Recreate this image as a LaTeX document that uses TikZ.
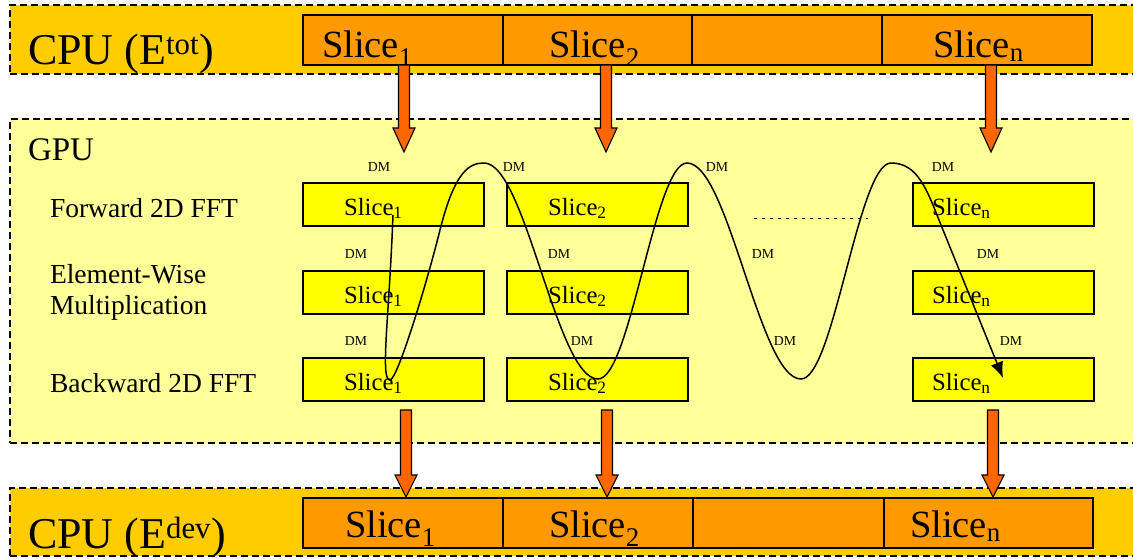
\documentclass[tikz,border=0pt]{standalone}
\usepackage{fontspec}
\setmainfont{Liberation Serif}
\usetikzlibrary{arrows.meta}
\definecolor{cpuband}{HTML}{FFCC00}
\definecolor{gpuband}{HTML}{FFFF99}
\definecolor{barfill}{HTML}{FF9900}
\definecolor{arrowfill}{HTML}{FF6600}
\definecolor{boxfill}{HTML}{FFFF00}
\newcommand{\fsz}[1]{\fontsize{#1}{#1}\selectfont}
\newcommand{\blockarrow}[4]{%
  \draw[orarrow] (#1-5.5,#2) -- (#1+5.5,#2) -- (#1+5.5,#3) -- (#1+11,#3) -- (#1,#4)
    -- (#1-11,#3) -- (#1-5.5,#3) -- cycle;}
\begin{document}
\begin{tikzpicture}[x=1pt,y=-1pt,
  band/.style={draw=black, line width=1.5pt, dash pattern=on 7pt off 4pt,
    inner sep=0pt, outer sep=0pt, anchor=north west},
  cell/.style={draw=black, line width=1.4pt, fill=barfill, inner sep=0pt,
    outer sep=0pt, anchor=north west, minimum height=50pt},
  ybox/.style={draw=black, line width=1.5pt, fill=boxfill, inner sep=0pt,
    outer sep=0pt, anchor=north west, minimum width=181pt, minimum height=43pt},
  orarrow/.style={draw=black, line width=1.1pt, fill=arrowfill, line join=miter},
  txt/.style={inner sep=0pt, outer sep=0pt, anchor=base west},
  cputxt/.style={txt, font=\fsz{44}},
  bartxt/.style={txt, font=\fsz{38.5}},
  gputxt/.style={txt, font=\fsz{33}},
  rowtxt/.style={txt, font=\fsz{27.5}},
  boxtxt/.style={txt, font=\fsz{24.75}},
  dmtxt/.style={inner sep=0pt, outer sep=0pt, font=\fsz{13.75}},
  wave/.style={draw=black, line width=1.5pt, -{Latex[length=16pt,width=13pt]}}
]
\clip (0,0) rectangle (1133,558);
\fill[white] (0,0) rectangle (1133,558);

% bands
\node[band, fill=cpuband, minimum width=1140pt, minimum height=69pt] (cputop) at (10,5) {};
\node[band, fill=gpuband, minimum width=1140pt, minimum height=324pt] (gpu) at (10,119) {};
\node[band, fill=cpuband, minimum width=1140pt, minimum height=68pt] (cpubot) at (10,488) {};

% top bar
\node[cell, minimum width=200pt] (t1) at (303,15) {};
\node[cell, minimum width=189pt] (t2) at (503,15) {};
\node[cell, minimum width=190pt] (t3) at (692,15) {};
\node[cell, minimum width=210pt] (t4) at (882,15) {};
% bottom bar
\node[cell, minimum width=200pt] (d1) at (303,498) {};
\node[cell, minimum width=190pt] (d2) at (503,498) {};
\node[cell, minimum width=191pt] (d3) at (693,498) {};
\node[cell, minimum width=209pt] (d4) at (884,498) {};

\node[cputxt] (cpulab1) at (28,64) {CPU (E\textsuperscript{tot})};
\node[cputxt] (cpulab2) at (28,548) {CPU (E\textsuperscript{dev})};
\node[bartxt] (ts1) at (322,57) {Slice\textsubscript{1}};
\node[bartxt] (ts2) at (549,57) {Slice\textsubscript{2}};
\node[bartxt] (ts3) at (933,57) {Slice\textsubscript{n}};
\node[bartxt] (ds1) at (345,537) {Slice\textsubscript{1}};
\node[bartxt] (ds2) at (549,537) {Slice\textsubscript{2}};
\node[bartxt] (ds3) at (910,537) {Slice\textsubscript{n}};

% GPU labels
\node[gputxt] (gpulab) at (28,160) {GPU};
\node[rowtxt] (r1) at (50,217) {Forward 2D FFT};
\node[rowtxt] (r2a) at (50,283) {Element-Wise};
\node[rowtxt] (r2b) at (50,314) {Multiplication};
\node[rowtxt] (r3) at (50,392) {Backward 2D FFT};

% yellow boxes
\node[ybox] (b11) at (303,183) {};
\node[ybox] (b12) at (507,183) {};
\node[ybox] (b13) at (913,183) {};
\node[ybox] (b21) at (303,271) {};
\node[ybox] (b22) at (507,271) {};
\node[ybox] (b23) at (913,271) {};
\node[ybox] (b31) at (303,358) {};
\node[ybox] (b32) at (507,358) {};
\node[ybox] (b33) at (913,358) {};
\foreach \r/\yb in {1/215,2/303,3/390}{
  \node[boxtxt] (s\r1) at (344,\yb) {Slice\textsubscript{1}};
  \node[boxtxt] (s\r2) at (548,\yb) {Slice\textsubscript{2}};
  \node[boxtxt] (s\r3) at (932,\yb) {Slice\textsubscript{n}};
}

% dotted ellipsis
\draw[line width=0.7pt, dash pattern=on 3pt off 5pt] (754,218) coordinate (dots1) -- (868,218) coordinate (dots2);

% DM labels
\foreach \x/\y [count=\i] in {379/167,514/167,717/167,943/167,
                               356/254,559/254,763/254,988/254,
                               356/341,582/341,785/341,1011/341}{
  \node[dmtxt] (dm\i) at (\x,\y) {DM};
}

% orange transfer arrows
\blockarrow{404}{65}{128}{152}
\blockarrow{606}{65}{128}{152}
\blockarrow{991}{65}{128}{152}
\blockarrow{406}{410}{475}{497}
\blockarrow{607}{410}{475}{497}
\blockarrow{993}{410}{475}{497}

% wave
\draw[wave] (393,215) .. controls (389,320) and (380,380) .. (390,380)
  .. controls (397,380) and (425,290) .. (440,230)
  .. controls (455,170) and (470,163) .. (484,163)
  cos (541,271) sin (598,379)
  cos (642.5,271) sin (687,163)
  cos (744,271) sin (801,379)
  cos (846,271) sin (891,163)
  .. controls (918,163) and (927,190) .. (941,225) -- (1003,378);
\end{tikzpicture}
\end{document}
